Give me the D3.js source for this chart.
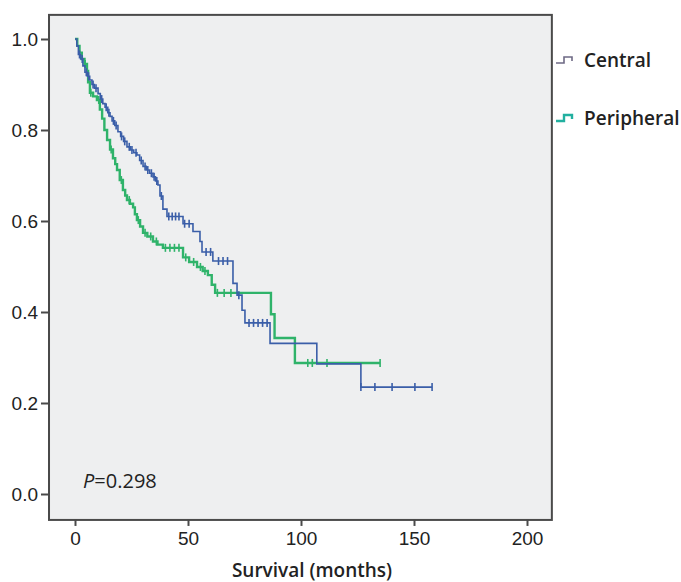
<!DOCTYPE html>
<html><head><meta charset="utf-8">
<script src="https://cdn.jsdelivr.net/npm/d3@7"></script>
<style>
html,body{margin:0;padding:0;background:#fff;}
svg{display:block;font-family:"Open Sans","Noto Sans",sans-serif;}
</style></head><body>
<svg id="c" width="681" height="582"></svg>
<script>
// ---- data ----
const seriesNames = ["Central", "Peripheral"];
const xTicks = [0, 50, 100, 150, 200];
const yTicks = [0.0, 0.2, 0.4, 0.6, 0.8, 1.0];
const pValueText = "0.298";
// Kaplan-Meier steps [month, survival after step]
const centralSteps = [[0,1.0],[0.8,0.985],[1.5,0.966],[2.5,0.956],[3.5,0.941],[4.4,0.927],[5.5,0.918],[6.5,0.91],[7.5,0.9],[8.6,0.892],[10.2,0.88],[11.2,0.868],[12.3,0.858],[13.3,0.85],[14.5,0.838],[15.5,0.83],[16.4,0.82],[17.6,0.81],[19,0.796],[20.2,0.786],[21.5,0.775],[23,0.763],[24.5,0.756],[26,0.75],[27.4,0.745],[28.6,0.733],[30.1,0.72],[31.5,0.712],[33,0.705],[34.5,0.697],[35.6,0.688],[36.7,0.679],[37.6,0.655],[38.9,0.626],[40.7,0.61],[47.8,0.594],[52.2,0.577],[55.3,0.555],[56.2,0.532],[61,0.512],[69.9,0.463],[71.7,0.437],[73.9,0.404],[75.2,0.376],[86.3,0.331],[107,0.286],[126.5,0.235]];
const centralEnd = 158;
const centralCensored = [2,3.2,5,6,8,9.3,11.8,13.8,15,17,18.2,20.6,22,24,25.2,27,29.3,31,32.2,33.8,35,36.2,38.2,41.5,43,44.5,46,48.5,50.5,58,60,63.5,65.5,67.5,72.5,77,79,81,83,85,126.5,132.7,140.3,150.4,158];
const peripheralSteps = [[0,1.0],[1,0.985],[2,0.97],[3,0.956],[4.2,0.945],[5.3,0.93],[5.8,0.905],[6.6,0.882],[8,0.874],[9.7,0.866],[11,0.845],[12,0.825],[13,0.8],[14.2,0.778],[15.5,0.757],[16.8,0.738],[17.8,0.725],[18.6,0.712],[19.8,0.69],[21.2,0.668],[22.2,0.656],[23,0.646],[24.3,0.638],[25.7,0.63],[26.5,0.615],[27.4,0.602],[28.8,0.588],[30.1,0.574],[32,0.566],[34.5,0.555],[36.5,0.548],[38.9,0.541],[47.8,0.52],[50.5,0.51],[54,0.499],[56.5,0.49],[58.8,0.481],[60.5,0.46],[62,0.442],[86.7,0.395],[88.3,0.343],[97.3,0.288]];
const peripheralEnd = 135;
const peripheralCensored = [4.5,7,10.5,16,20.5,24,28,31,33.5,36,40,42,44,46,49,52.5,55.5,57.5,63,66,69,103,105,111.5,135];
const xLimits = [-11.5, 211];
const yLimits = [-0.057, 1.053];

// ---- chart ----
const svg = d3.select("#c");
const x = d3.scaleLinear().domain([0, 200]).range([75, 527]);
const y = d3.scaleLinear().domain([0, 1]).range([494, 39]);
const colors = {Central: "#3a5ea8", Peripheral: "#2fb36a"};

const fx0 = x(xLimits[0]), fx1 = x(xLimits[1]);
const fy0 = y(yLimits[1]), fy1 = y(yLimits[0]);
svg.append("rect").attr("x", fx0).attr("y", fy0).attr("width", fx1 - fx0).attr("height", fy1 - fy0)
  .attr("fill", "#eeeff0").attr("stroke", "#4a4a4a").attr("stroke-width", 2);

// axes
const yAxis = svg.append("g").attr("transform", `translate(${fx0},0)`)
  .call(d3.axisLeft(y).tickValues(yTicks).tickFormat(d3.format(".1f")).tickSize(8).tickPadding(3));
const xAxis = svg.append("g").attr("transform", `translate(0,${fy1})`)
  .call(d3.axisBottom(x).tickValues(xTicks).tickFormat(d3.format("d")).tickSize(6).tickPadding(6));
[yAxis, xAxis].forEach(a => {
  a.select(".domain").remove();
  a.selectAll(".tick line").attr("stroke", "#4a4a4a").attr("stroke-width", 2);
  a.selectAll(".tick text").attr("fill", "#222").style("font-size", "19px").style("font-weight", 500);
});

function stepAt(steps, t) {
  let s = steps[0][1];
  for (const p of steps) { if (p[0] <= t) s = p[1]; else break; }
  return s;
}
const line = d3.line().x(d => x(d[0])).y(d => y(d[1])).curve(d3.curveStepAfter);

function drawSeries(steps, end, cens, color, width) {
  const pts = steps.concat([[end, steps[steps.length - 1][1]]]);
  svg.append("path").datum(pts).attr("d", line).attr("fill", "none")
    .attr("stroke", color).attr("stroke-width", width);
  svg.append("g").selectAll("line").data(cens).join("line")
    .attr("x1", d => x(d)).attr("x2", d => x(d))
    .attr("y1", d => y(stepAt(steps, d)) - 4).attr("y2", d => y(stepAt(steps, d)) + 4)
    .attr("stroke", color).attr("stroke-width", 1.6);
}
drawSeries(peripheralSteps, peripheralEnd, peripheralCensored, colors.Peripheral, 2.4);
drawSeries(centralSteps, centralEnd, centralCensored, colors.Central, 1.6);

// legend
const legendColors = ["#6e6a85", "#22b0a0"];
const leg = svg.append("g");
seriesNames.forEach((n, i) => {
  const ly = 60 + i * 58;
  leg.append("path").attr("d", `M556,${ly + 3}H564V${ly - 3}H572V${ly + 1}`)
    .attr("fill", "none").attr("stroke", legendColors[i]).attr("stroke-width", i ? 2.4 : 1.6);
  leg.append("text").attr("x", 584).attr("y", ly + 7).text(n)
    .attr("fill", "#222").style("font-size", "19px").style("font-weight", 600);
});

// p value
const pt = svg.append("text").attr("x", 83).attr("y", 488).attr("fill", "#222").style("font-size", "20px");
pt.append("tspan").text("P").style("font-style", "italic");
pt.append("tspan").text("=" + pValueText);

// x label
svg.append("text").attr("x", x(100) + 11).attr("y", 577).attr("text-anchor", "middle")
  .attr("fill", "#222").style("font-size", "19px").style("font-weight", 600).text("Survival (months)");
</script></body></html>
